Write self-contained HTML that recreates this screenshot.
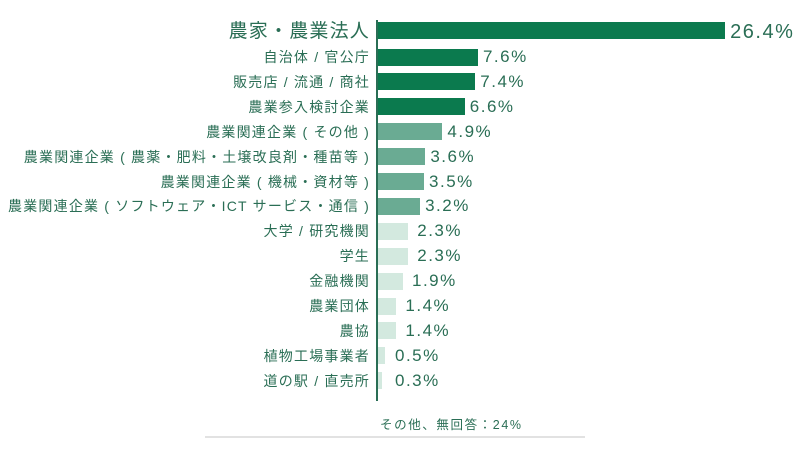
<!DOCTYPE html>
<html><head><meta charset="utf-8"><style>
body{margin:0;width:800px;height:450px;background:#fff;overflow:hidden;position:relative;font-family:"Liberation Sans","Noto Sans CJK JP",sans-serif;color:#2a6e55}
.l{position:absolute;right:430px;white-space:nowrap}
.b{position:absolute;left:378px;height:17px}
.v{position:absolute;white-space:nowrap;letter-spacing:1.5px}
</style></head><body>
<div style="position:absolute;left:376px;top:20px;width:1.5px;height:381px;background:#2a6e55"></div>
<div id="c"></div>
<div style="position:absolute;left:380px;top:414px;font-size:12.5px;letter-spacing:1.6px">その他、無回答：24%</div>
<div style="position:absolute;left:205px;top:436px;width:380px;height:2px;background:#e2e2e2"></div>
<script>
var d=[["農家・農業法人",26.4],["自治体 / 官公庁",7.6],["販売店 / 流通 / 商社",7.4],["農業参入検討企業",6.6],["農業関連企業 ( その他 )",4.9],["農業関連企業 ( 農薬・肥料・土壌改良剤・種苗等 )",3.6],["農業関連企業 ( 機械・資材等 )",3.5],["農業関連企業 ( ソフトウェア・ICT サービス・通信 )",3.2],["大学 / 研究機関",2.3],["学生",2.3],["金融機関",1.9],["農業団体",1.4],["農協",1.4],["植物工場事業者",0.5],["道の駅 / 直売所",0.3]];
var h="";
d.forEach(function(r,i){
 var cy=i==0?32:57+(i-1)*24.9;
 var col=i<4?"#0b7a4e":i<8?"#6aab93":"#d3e9df";
 var w=r[1]*13.15, bh=i==0?20:17;
 var fs=i==0?19:14;
 h+='<div class="l" style="top:'+(cy-(i==0?12:9))+'px;font-size:'+fs+'px;line-height:'+(i==0?24:18)+'px;letter-spacing:'+(i==0?1.2:1.2)+'px">'+r[0]+'</div>';
 h+='<div class="b" style="top:'+(cy-bh/2)+'px;width:'+w+'px;background:'+col+'"></div>';
 var vx=378+Math.max(w,8)+(i<8?5:9);
 h+='<div class="v" style="left:'+vx+'px;top:'+(cy-(i==0?12:10))+'px;font-size:'+(i==0?20:17)+'px;line-height:'+(i==0?24:20)+'px">'+r[1].toFixed(1)+'%</div>';
});
document.getElementById("c").innerHTML=h;
</script>
</body></html>
